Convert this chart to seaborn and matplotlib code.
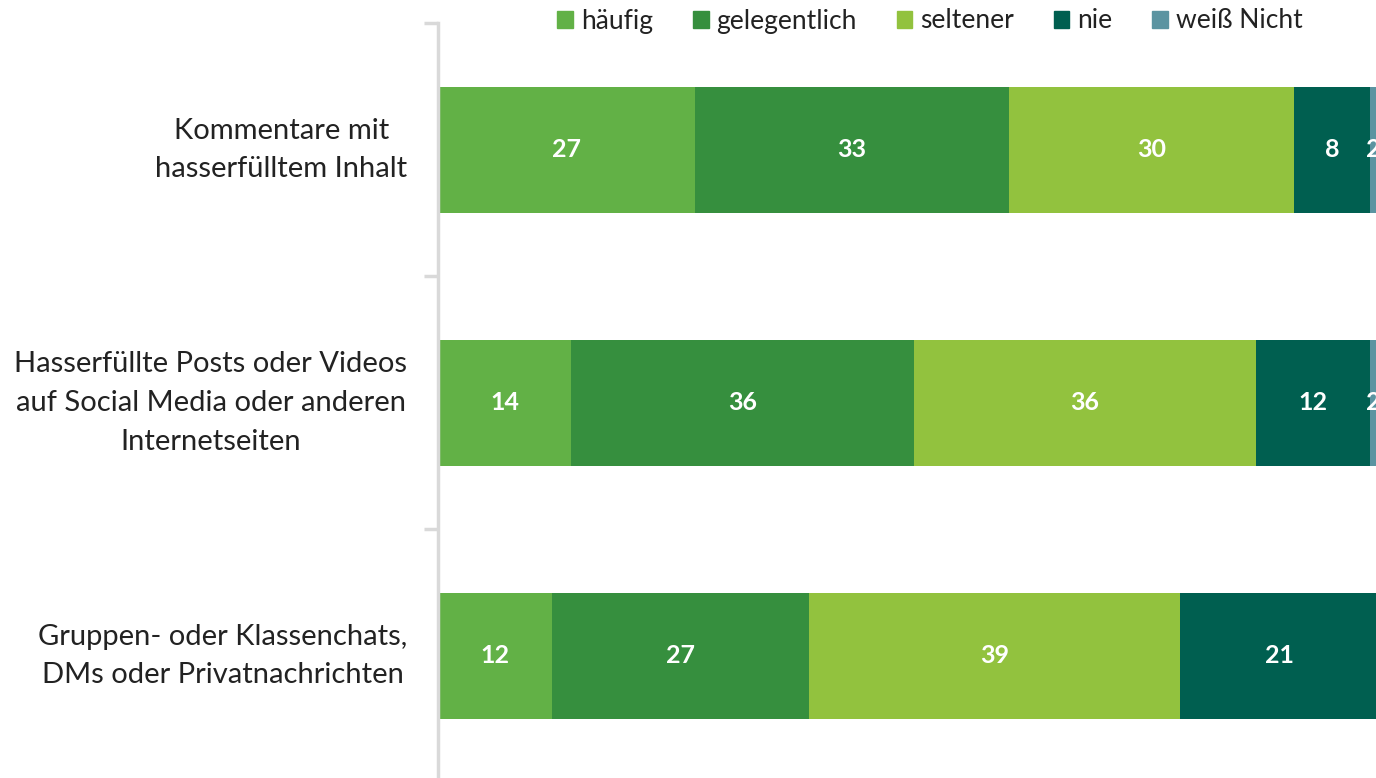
import matplotlib
matplotlib.use("Agg")
import matplotlib.pyplot as plt
import seaborn as sns
import pandas as pd
import numpy as np

# categories and shares (percent)
categories = ["Kommentare mit\nhasserfülltem Inhalt",
              "Hasserfüllte Posts oder Videos\nauf Social Media oder anderen\nInternetseiten",
              "Gruppen- oder Klassenchats,\nDMs oder Privatnachrichten"]
series = ["häufig", "gelegentlich", "seltener", "nie", "weiß Nicht"]
haeufig = [27, 14, 12]
gelegentlich = [33, 36, 27]
seltener = [30, 36, 39]
nie = [8, 12, 21]
weiss_nicht = [2, 2, 1]
colors = ["#62B146", "#368F3E", "#92C23E", "#005F50", "#5B94A1"]

values = np.array([haeufig, gelegentlich, seltener, nie, weiss_nicht], dtype=float)
cum = values.cumsum(axis=0)
xmax = 98.6  # the original chart is cut off at the right edge

sns.set_style("white")
plt.rcParams["font.family"] = ["Lato", "DejaVu Sans"]

fig = plt.figure(figsize=(13.76, 7.78), dpi=100)
ax = fig.add_axes([438 / 1376, 1 - 782.5 / 778, 938 / 1376, 759 / 778])

# stacked bars: draw cumulative totals back to front
for i in range(len(series) - 1, -1, -1):
    df = pd.DataFrame({"cat": categories, "val": cum[i]})
    sns.barplot(data=df, y="cat", x="val", color=colors[i], orient="h",
                width=0.5, errorbar=None, saturation=1, ax=ax,
                edgecolor="none", linewidth=0)

# segment labels (thin last segment: label nudged left, as in the original)
for i in range(len(series)):
    for j in range(len(categories)):
        start = cum[i, j] - values[i, j]
        dx = -5 if (i == len(series) - 1 and start < xmax) else 0
        ax.annotate(f"{int(values[i, j])}", (start + values[i, j] / 2, j),
                    xytext=(dx, 0), textcoords="offset points",
                    ha="center", va="center", color="white", fontsize=18,
                    fontweight="bold", annotation_clip=False)

ax.set_xlim(0, xmax)
ax.set_ylim(2.5, -0.5)
ax.set_xlabel("")
ax.set_ylabel("")
ax.set_xticks([])
ax.set_yticks([-0.5, 0.5, 1.5, 2.5])
ax.set_yticklabels([])
ax.set_yticks([0, 1, 2], minor=True)
ax.set_yticklabels(categories, minor=True, fontsize=21, color="#222222",
                   multialignment="center", linespacing=1.6, va="center")
ax.tick_params(axis="y", which="major", length=10, width=2.5, color="#D9D9D9",
               left=True)
ax.tick_params(axis="y", which="minor", length=0, pad=22)

for side in ["top", "right", "bottom"]:
    ax.spines[side].set_visible(False)
ax.spines["left"].set_color("#D9D9D9")
ax.spines["left"].set_linewidth(2.5)

handles = [plt.Rectangle((0, 0), 1, 1, color=c) for c in colors]
fig.legend(handles, series, loc="center", bbox_to_anchor=(930 / 1376, 1 - 21 / 778),
           ncol=5, frameon=False, fontsize=19, handlelength=0.6, handleheight=0.6,
           handletextpad=0.3, columnspacing=1.5, labelcolor="#222222")

fig.savefig("out.png", dpi=100)
